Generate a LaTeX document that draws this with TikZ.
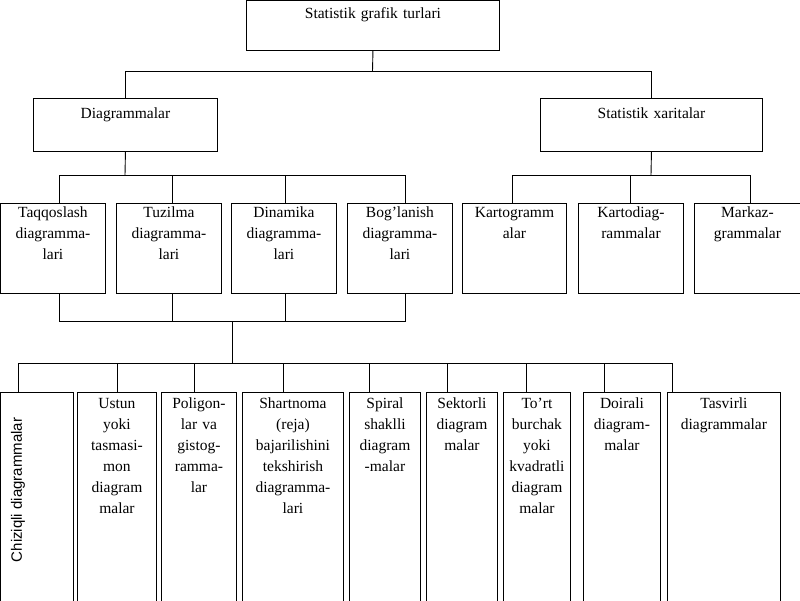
\documentclass[tikz,border=0pt]{standalone}
\usepackage{fontspec}
\setmainfont{Liberation Serif}
\newfontfamily\sansf{Liberation Sans}
\begin{document}
\begin{tikzpicture}[x=1pt,y=-1pt,
  box/.style={draw,line width=0.9pt,anchor=north west,inner sep=0},
  lbl/.style={anchor=north,align=center,font=\fontsize{15.5}{21}\selectfont,inner sep=0},
  ln/.style={line width=0.9pt}]
\useasboundingbox (0,0) rectangle (800,600);
\clip (-1,-1) rectangle (801,600);
\newcommand{\bx}[6]{%
  \node[box,minimum width=#3,minimum height=#4] (#1) at (#2) {};
  \node[lbl,text width=#3] (#1t) at ([yshift=-#5]#1.north) {#6};}
% top
\bx{top}{246,0}{253}{50}{7}{Statistik grafik turlari}
\bx{dia}{33,98}{184}{53}{10}{Diagrammalar}
\bx{sx}{540,98}{222}{53}{10}{Statistik xaritalar}
% row 2
\bx{taq}{0,203}{105}{90}{4}{Taqqoslash\\diagramma-\\lari}
\bx{tuz}{116,203}{105}{90}{4}{Tuzilma\\diagramma-\\lari}
\bx{din}{231,203}{105}{90}{4}{Dinamika\\diagramma-\\lari}
\bx{bog}{347,203}{105}{90}{4}{Bog’lanish\\diagramma-\\lari}
\bx{kar}{462,203}{104}{90}{4}{Kartogramm\\alar}
\bx{kd}{578,203}{105}{90}{4}{Kartodiag-\\rammalar}
\bx{mk}{694,203}{106}{90}{4}{Markaz-\\grammalar}
% bottom
\node[box,minimum width=73,minimum height=215] (chz) at (0,392) {};
\node[rotate=90,font=\sansf\fontsize{15}{18}\selectfont,inner sep=0] (chzt) at (18,490) {Chiziqli diagrammalar};
\bx{ust}{77,392}{79}{215}{6}{Ustun\\yoki\\tasmasi-\\mon\\diagram\\malar}
\bx{pol}{161,392}{75}{215}{6}{Poligon-\\lar va\\gistog-\\ramma-\\lar}
\bx{sha}{242,392}{101}{215}{6}{Shartnoma\\(reja)\\bajarilishini\\tekshirish\\diagramma-\\lari}
\bx{spi}{349,392}{71}{215}{6}{Spiral\\shaklli\\diagram\\-malar}
\bx{sek}{426,392}{71}{215}{6}{Sektorli\\diagram\\malar}
\bx{tor}{503,392}{67}{215}{6}{To’rt\\burchak\\yoki\\kvadratli\\diagram\\malar}
\bx{doi}{583,392}{77}{215}{6}{Doirali\\diagram-\\malar}
\bx{tas}{667,392}{113}{215}{6}{Tasvirli\\diagrammalar}
% connectors
\coordinate (j1) at (372.5,71);
\draw[ln] (top.south) -- (j1);
\draw[ln] (dia.north) -- (dia.north |- j1) -- (sx.north |- j1) -- (sx.north);
\coordinate (j2) at (125,175);
\draw[ln] (dia.south) -- (j2);
\draw[ln] (59,203) -- (59,175) -- (405,175) -- (405,203);
\draw[ln] (172,175) -- (172,203);
\draw[ln] (285,175) -- (285,203);
\coordinate (j3) at (651,175);
\draw[ln] (sx.south) -- (j3);
\draw[ln] (512,203) -- (512,175) -- (750,175) -- (750,203);
\draw[ln] (630,175) -- (630,203);
% merge
\draw[ln] (59,293) -- (59,321) -- (405,321) -- (405,293);
\draw[ln] (172,293) -- (172,321);
\draw[ln] (285,293) -- (285,321);
\coordinate (j4) at (232,321);
\coordinate (j5) at (232,363);
\draw[ln] (j4) -- (j5);
\draw[ln] (18,392) -- (18,363) -- (672,363) -- (672,392);
\foreach \xx in {117,194,283,369,447,526,604} \draw[ln] (\xx,363) -- (\xx,392);
\end{tikzpicture}
\end{document}
